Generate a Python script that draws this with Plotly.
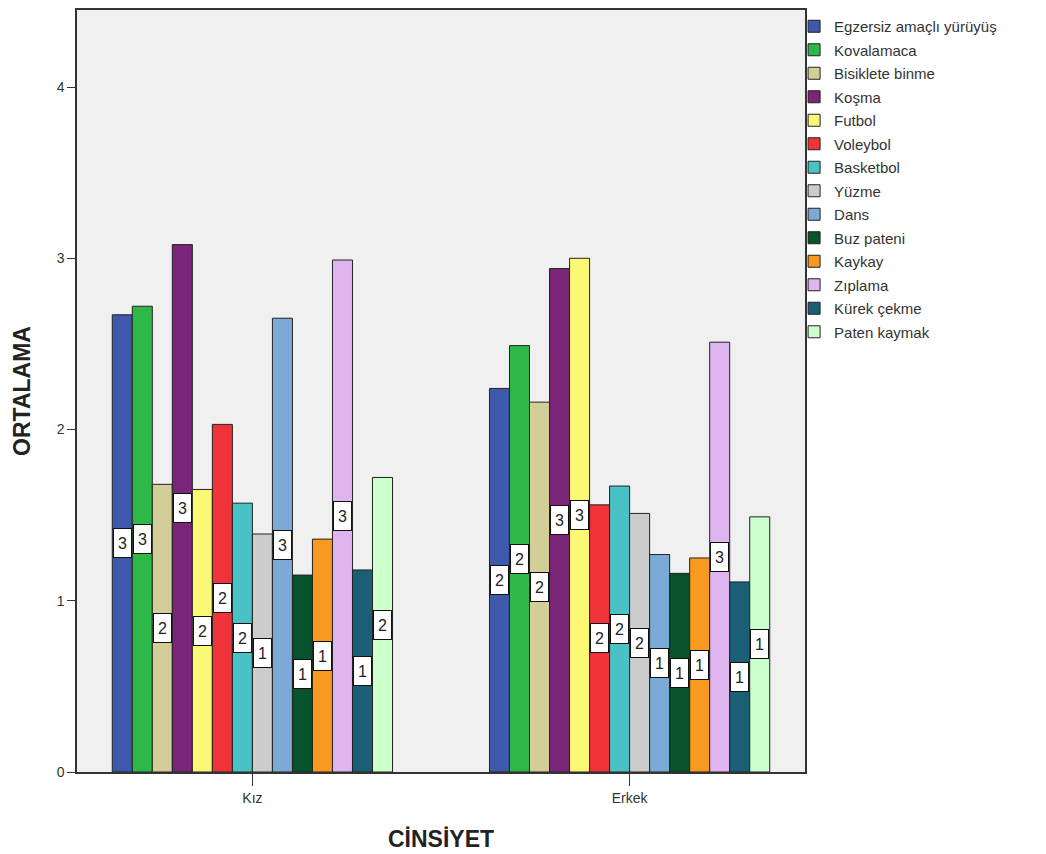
import plotly.graph_objects as go

categories = ["Kız", "Erkek"]
series_names = ["Egzersiz amaçlı yürüyüş", "Kovalamaca", "Bisiklete binme", "Koşma", "Futbol",
                "Voleybol", "Basketbol", "Yüzme", "Dans", "Buz pateni", "Kaykay", "Zıplama",
                "Kürek çekme", "Paten kaymak"]
kiz_values = [2.67, 2.72, 1.68, 3.08, 1.65, 2.03, 1.57, 1.39, 2.65, 1.15, 1.36, 2.99, 1.18, 1.72]
erkek_values = [2.24, 2.49, 2.16, 2.94, 3.00, 1.56, 1.67, 1.51, 1.27, 1.16, 1.25, 2.51, 1.11, 1.49]
colors = ["#3E58AC", "#2EB848", "#D3CE97", "#7B2578", "#FBF873", "#EF3338", "#48C2C5", "#CCCCCC",
          "#7BAAD7", "#06532C", "#F89A1F", "#DEB5EE", "#1A5F76", "#CCFFCC"]
y_ticks = [0, 1, 2, 3, 4]

FONT = "Liberation Sans, Arial, sans-serif"
bargap = 0.257
group_w = 1 - bargap
n = len(series_names)

fig = go.Figure()
for j, name in enumerate(series_names):
    vals = [kiz_values[j], erkek_values[j]]
    fig.add_trace(go.Bar(
        x=categories, y=vals, name=name, legendgroup=name,
        marker=dict(color=colors[j], line=dict(color="#222222", width=1)),
    ))

annotations = []
for i in range(len(categories)):
    for j in range(n):
        v = [kiz_values, erkek_values][i][j]
        xpos = i - group_w / 2 + (j + 0.5) * group_w / n
        annotations.append(dict(
            x=xpos, y=v / 2, xref="x", yref="y", text=str(int(round(v + 1e-9))),
            showarrow=False, bgcolor="white", bordercolor="#111111", borderwidth=1,
            borderpad=1, width=15, height=26,
            font=dict(family=FONT, size=16, color="#222222"),
        ))

fig.update_layout(
    width=1046, height=854,
    margin=dict(l=69, r=249, t=0, b=90),
    paper_bgcolor="white", plot_bgcolor="#F0F0F0",
    barmode="group", bargap=bargap, bargroupgap=0,
    font=dict(family=FONT, size=14, color="#333333"),
    annotations=annotations,
    showlegend=True,
    legend=dict(x=0.985, y=1.0, xanchor="left", yanchor="top", bgcolor="rgba(0,0,0,0)",
                font=dict(family=FONT, size=15, color="#333333"), tracegroupgap=1,
                itemwidth=30),
    xaxis=dict(
        range=[-0.465, 1.465], showline=True, linecolor="#333333", linewidth=1.5, mirror=True,
        ticks="outside", ticklen=12, tickcolor="#333333",
        tickfont=dict(family=FONT, size=14, color="#333333"),
        title=dict(text="<b>CİNSİYET</b>", font=dict(family=FONT, size=23, color="#222222"), standoff=26),
    ),
    yaxis=dict(
        range=[0, 4.45], tickvals=y_ticks, showgrid=False, zeroline=False,
        showline=True, linecolor="#333333", linewidth=1.5, mirror=True,
        ticks="outside", ticklen=8, tickcolor="#333333",
        tickfont=dict(family=FONT, size=14, color="#333333"),
        title=dict(text="<b>ORTALAMA</b>", font=dict(family=FONT, size=23, color="#222222"), standoff=20),
    ),
)

fig.write_html("out.html")
